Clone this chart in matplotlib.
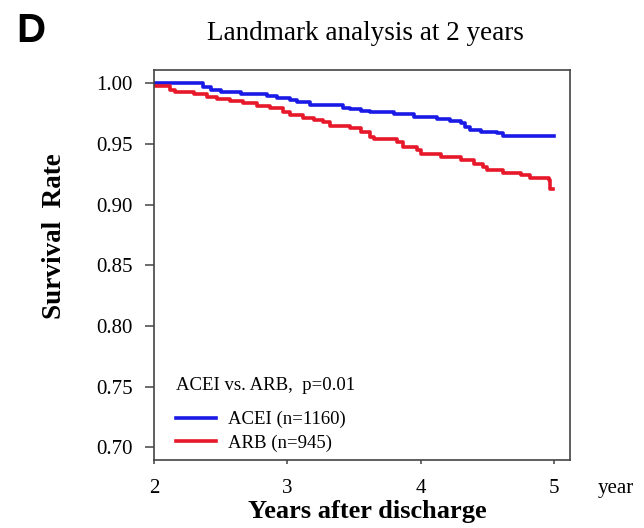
import matplotlib
matplotlib.use("Agg")
import matplotlib.pyplot as plt
from matplotlib.ticker import FormatStrFormatter

# Kaplan-Meier step data (time in years after discharge, survival probability)
acei_time = [2.00, 2.37, 2.43, 2.50, 2.65, 2.85, 2.92, 3.02, 3.07, 3.17,
             3.42, 3.47, 3.55, 3.62, 3.80, 3.95, 4.12, 4.22, 4.30, 4.33,
             4.37, 4.45, 4.57, 4.62, 5.00]
acei_surv = [1.0000, 0.9972, 0.9948, 0.9932, 0.9912, 0.9892, 0.9877, 0.9862, 0.9845, 0.9818,
             0.9800, 0.9785, 0.9771, 0.9760, 0.9744, 0.9724, 0.9705, 0.9690, 0.9670, 0.9641,
             0.9614, 0.9600, 0.9587, 0.9568, 0.9568]

arb_time = [2.00, 2.12, 2.16, 2.30, 2.40, 2.47, 2.57, 2.67, 2.77, 2.87,
            2.97, 3.02, 3.12, 3.20, 3.27, 3.32, 3.47, 3.55, 3.62, 3.65,
            3.82, 3.87, 3.97, 4.00, 4.15, 4.30, 4.40, 4.47, 4.50, 4.62,
            4.75, 4.82, 4.96, 4.97, 4.995]
arb_surv = [0.9982, 0.9948, 0.9928, 0.9910, 0.9890, 0.9872, 0.9854, 0.9835, 0.9816, 0.9795,
            0.9766, 0.9742, 0.9715, 0.9700, 0.9680, 0.9652, 0.9630, 0.9600, 0.9560, 0.9540,
            0.9518, 0.9478, 0.9450, 0.9422, 0.9394, 0.9366, 0.9339, 0.9312, 0.9284, 0.9264,
            0.9242, 0.9220, 0.9200, 0.9132, 0.9132]

acei_label = "ACEI (n=1160)"
arb_label = "ARB (n=945)"
x_ticks = [2, 3, 4, 5]
y_ticks = [0.70, 0.75, 0.80, 0.85, 0.90, 0.95, 1.00]

serif = ["Liberation Serif", "DejaVu Serif"]
plt.rcParams["font.family"] = serif

fig = plt.figure(figsize=(6.44, 5.28), dpi=100)
ax = fig.add_axes([0.2391, 0.1288, 0.6460, 0.7386])

blue = "#1a1ae6"
red = "#e6182a"
l1, = ax.step(acei_time, acei_surv, where="post", color=blue, lw=2.6, label=acei_label)
l2, = ax.step(arb_time, arb_surv, where="post", color=red, lw=2.6, label=arb_label)

ax.set_xlim(2, 5.12)
ax.set_ylim(0.6897, 1.011)
ax.set_xticks(x_ticks)
ax.set_yticks(y_ticks)
ax.yaxis.set_major_formatter(FormatStrFormatter("%.2f"))

for s in ax.spines.values():
    s.set_color("#444444")
    s.set_linewidth(1.2)
ax.tick_params(axis="y", direction="out", length=6.5, width=1.1, color="#444444",
               labelsize=15, pad=9)
ax.tick_params(axis="x", direction="out", length=3, width=1.1, color="#444444",
               labelsize=15, pad=11)

ax.set_xlabel("Years after discharge", fontsize=19, fontweight="bold")
ax.xaxis.set_label_coords(0.512, -0.1326)
ax.xaxis.label.set_va("center")
ax.set_ylabel("Survival  Rate", fontsize=19.5, fontweight="bold")
ax.yaxis.set_label_coords(-0.238, 0.574)
ax.yaxis.label.set_va("center")

ax.text(0.053, 0.19, "ACEI vs. ARB,  p=0.01", transform=ax.transAxes,
        fontsize=13.5, ha="left", va="center")
ax.legend(handles=[l1, l2], loc="upper left", bbox_to_anchor=(0.053, 0.126),
          frameon=False, fontsize=13.5, borderpad=0, borderaxespad=0,
          handlelength=2.13, handletextpad=0.64, labelspacing=0.33)

fig.text(0.567, 1 - 34 / 528, "Landmark analysis at 2 years", fontsize=19.5,
         ha="center", va="center")
fig.text(16.7 / 644, 1 - 31 / 528, "D", fontsize=29, fontweight="bold",
         family=["Liberation Sans", "DejaVu Sans"], ha="left", va="center")
fig.text(598 / 644, 1 - 489 / 528, "year", fontsize=15, ha="left", va="center")

fig.savefig("out.png", dpi=100)
